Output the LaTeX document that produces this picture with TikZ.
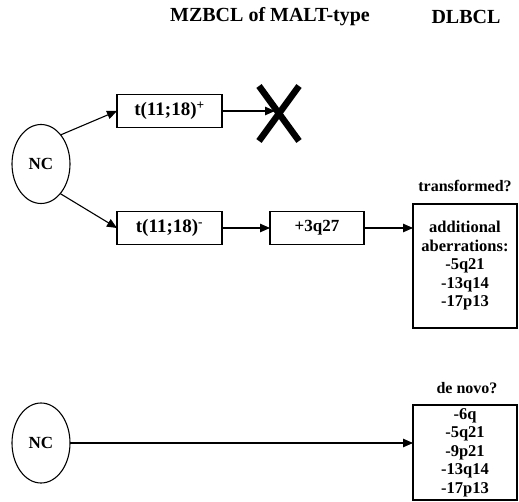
\documentclass[tikz,border=0pt]{standalone}
\usepackage{fontspec}
\setmainfont{Liberation Serif}
\usetikzlibrary{arrows.meta,shapes.geometric}

\tikzset{
  every node/.style={inner sep=0pt, outer sep=0pt},
  conn/.style={line width=1.1pt, -{Triangle[length=10pt,width=8.5pt]}},
  stepbox/.style={draw, line width=1.4pt, minimum height=33pt, font=\fontsize{19}{21}\selectfont\bfseries},
  endbox/.style={draw, line width=1.4pt, minimum width=104pt, align=center, font=\fontsize{16.5}{18.5}\selectfont\bfseries},
  ncnode/.style={draw, ellipse, line width=1.1pt, minimum width=58pt, minimum height=79pt, font=\fontsize{17}{19}\selectfont\bfseries},
  heading/.style={font=\fontsize{20}{22}\selectfont\bfseries},
  tag/.style={font=\fontsize{16}{18}\selectfont\bfseries},
  cross/.style={line width=6.5pt}
}

\begin{document}
\begin{tikzpicture}[x=1pt, y=-1pt]
\useasboundingbox (0,0) rectangle (519,502);

% column headings
\node[heading] (hmz) at (270,17) {MZBCL of MALT-type};
\node[heading] (hdl) at (466,17) {DLBCL};

% upper pathway
\node[ncnode] (nc1) at (41,164) {NC};
\node[stepbox, minimum width=105pt] (tpos) at (169.5,111) {t(11;18)\textsuperscript{+}};
\node[stepbox, minimum width=105pt] (tneg) at (169.5,228) {t(11;18)\textsuperscript{-}};
\node[stepbox, minimum width=94pt, font=\fontsize{17}{19}\selectfont\bfseries] (gain) at (317,228) {+3q27};
\node[tag] (ttr) at (465,186) {transformed?};
\node[endbox, minimum height=124pt] (trans) at (465,266)
  {additional\\aberrations:\\-5q21\\-13q14\\-17p13};

% dead end
\coordinate (xtip) at (275,111);
\draw[cross] (259,86) -- (299,141);
\draw[cross] (299,86) -- (259,141);

% lower pathway
\node[ncnode, minimum height=80pt] (nc2) at (41,443) {NC};
\node[tag] (tdn) at (467,388) {de novo?};
\node[endbox, minimum height=95pt] (denovo) at (465,452.5)
  {-6q\\-5q21\\-9p21\\-13q14\\-17p13};

% connectors
\draw[conn] (nc1.56) -- (tpos.west);
\draw[conn] (nc1.-57) -- (tneg.west);
\draw[conn] (tpos.east) -- (tpos.east -| xtip);
\draw[conn] (tneg.east) -- (gain.west);
\draw[conn] (gain.east) -- (gain.east -| trans.west);
\draw[conn] (nc2.east) -- (nc2.east -| denovo.west);
\end{tikzpicture}
\end{document}
